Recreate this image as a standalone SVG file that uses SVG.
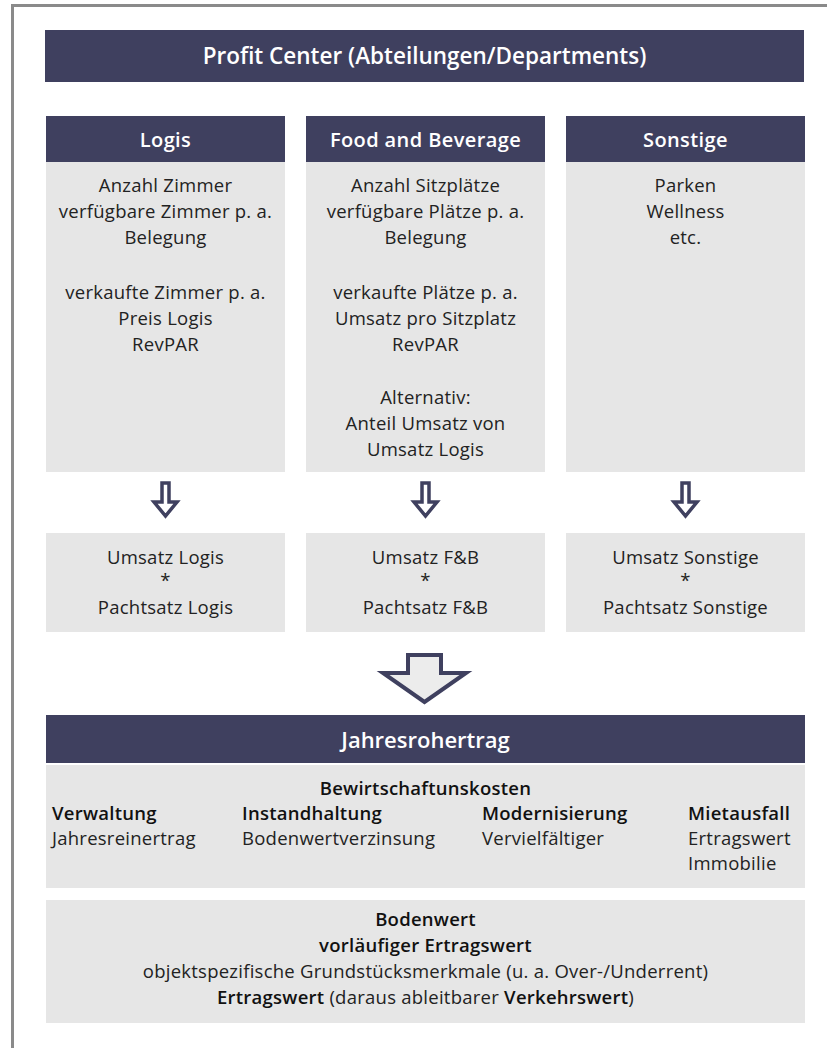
<svg xmlns="http://www.w3.org/2000/svg" width="827" height="1048" viewBox="0 0 827 1048">
<defs>
<style>
.bar{fill:#3f405f}
.box{fill:#e6e6e6}
.hd{font-family:"Open Sans","Noto Sans",sans-serif;font-weight:600;fill:#ffffff;text-anchor:middle}
.t{font-family:"Open Sans","Noto Sans",sans-serif;font-size:18.5px;letter-spacing:0.25px;fill:#222222;text-anchor:middle}
.l{font-family:"Open Sans","Noto Sans",sans-serif;font-size:18.5px;letter-spacing:0.25px;fill:#222222}
.b{font-weight:600;fill:#111111}
.arr{fill:#ffffff;stroke:#3f405f;stroke-width:3.5;stroke-linejoin:miter}
.big{fill:#ececec;stroke:#3f405f;stroke-width:4;stroke-linejoin:miter}
</style>
</defs>
<rect width="827" height="1048" fill="#ffffff"/>
<g id="frame" fill="none" stroke="#8a8a8a" stroke-width="3">
<path d="M12.5,1048 V5.5 H827"/>
</g>
<g id="title">
<rect class="bar" x="45" y="30" width="759" height="52"/>
<text class="hd" x="424.5" y="64" font-size="22.5">Profit Center (Abteilungen/Departments)</text>
</g>
<g id="logis">
<rect class="bar" x="46" y="116" width="239" height="46"/>
<rect class="box" x="46" y="162" width="239" height="310"/>
<text class="hd" x="165.5" y="147" font-size="20" letter-spacing="0.4">Logis</text>
<text class="t" x="165.5" y="192">Anzahl Zimmer</text>
<text class="t" x="165.5" y="218">verfügbare Zimmer p. a.</text>
<text class="t" x="165.5" y="244">Belegung</text>
<text class="t" x="165.5" y="299">verkaufte Zimmer p. a.</text>
<text class="t" x="165.5" y="325">Preis Logis</text>
<text class="t" x="165.5" y="351">RevPAR</text>
</g>
<g id="fb">
<rect class="bar" x="306" y="116" width="239" height="46"/>
<rect class="box" x="306" y="162" width="239" height="310"/>
<text class="hd" x="425.5" y="147" font-size="20" letter-spacing="0.4">Food and Beverage</text>
<text class="t" x="425.5" y="192">Anzahl Sitzplätze</text>
<text class="t" x="425.5" y="218">verfügbare Plätze p. a.</text>
<text class="t" x="425.5" y="244">Belegung</text>
<text class="t" x="425.5" y="299">verkaufte Plätze p. a.</text>
<text class="t" x="425.5" y="325">Umsatz pro Sitzplatz</text>
<text class="t" x="425.5" y="351">RevPAR</text>
<text class="t" x="425.5" y="404">Alternativ:</text>
<text class="t" x="425.5" y="430">Anteil Umsatz von</text>
<text class="t" x="425.5" y="456">Umsatz Logis</text>
</g>
<g id="sonstige">
<rect class="bar" x="566" y="116" width="239" height="46"/>
<rect class="box" x="566" y="162" width="239" height="310"/>
<text class="hd" x="685.5" y="147" font-size="20" letter-spacing="0.4">Sonstige</text>
<text class="t" x="685.5" y="192">Parken</text>
<text class="t" x="685.5" y="218">Wellness</text>
<text class="t" x="685.5" y="244">etc.</text>
</g>
<g id="res-logis">
<rect class="box" x="46" y="533" width="239" height="99"/>
<text class="t" x="165.5" y="564">Umsatz Logis</text>
<text class="t" x="165.5" y="587">*</text>
<text class="t" x="165.5" y="614">Pachtsatz Logis</text>
</g>
<g id="res-fb">
<rect class="box" x="306" y="533" width="239" height="99"/>
<text class="t" x="425.5" y="564">Umsatz F&amp;B</text>
<text class="t" x="425.5" y="587">*</text>
<text class="t" x="425.5" y="614">Pachtsatz F&amp;B</text>
</g>
<g id="res-sonstige">
<rect class="box" x="566" y="533" width="239" height="99"/>
<text class="t" x="685.5" y="564">Umsatz Sonstige</text>
<text class="t" x="685.5" y="587">*</text>
<text class="t" x="685.5" y="614">Pachtsatz Sonstige</text>
</g>
<g id="connectors">
<path class="arr" d="M162,483 H169 V502 H177 L165.5,516 L154,502 H162 Z"/>
<path class="arr" d="M422,483 H429 V502 H437 L425.5,516 L414,502 H422 Z"/>
<path class="arr" d="M682,483 H689 V502 H697 L685.5,516 L674,502 H682 Z"/>
<path class="big" d="M408,655 H441 V673 H466 L424.5,702 L383,673 H408 Z"/>
</g>
<g id="jahresrohertrag">
<rect class="bar" x="46" y="715" width="759" height="48"/>
<text class="hd" x="425.5" y="748" font-size="22">Jahresrohertrag</text>
</g>
<g id="bewirtschaftung">
<rect class="box" x="46" y="765" width="759" height="123"/>
<text class="t b" x="425.5" y="795">Bewirtschaftunskosten</text>
<text class="l b" x="52" y="820">Verwaltung</text>
<text class="l" x="52" y="845">Jahresreinertrag</text>
<text class="l b" x="242" y="820">Instandhaltung</text>
<text class="l" x="242" y="845">Bodenwertverzinsung</text>
<text class="l b" x="482" y="820">Modernisierung</text>
<text class="l" x="482" y="845">Vervielfältiger</text>
<text class="l b" x="688" y="820">Mietausfall</text>
<text class="l" x="688" y="845">Ertragswert</text>
<text class="l" x="688" y="870">Immobilie</text>
</g>
<g id="ertragswert">
<rect class="box" x="46" y="900" width="759" height="123"/>
<text class="t b" x="425.5" y="926">Bodenwert</text>
<text class="t b" x="425.5" y="952">vorläufiger Ertragswert</text>
<text class="t" x="425.5" y="978">objektspezifische Grundstücksmerkmale (u. a. Over-/Underrent)</text>
<text class="t" x="425.5" y="1004"><tspan class="b">Ertragswert</tspan> (daraus ableitbarer <tspan class="b">Verkehrswert</tspan>)</text>
</g>
</svg>
